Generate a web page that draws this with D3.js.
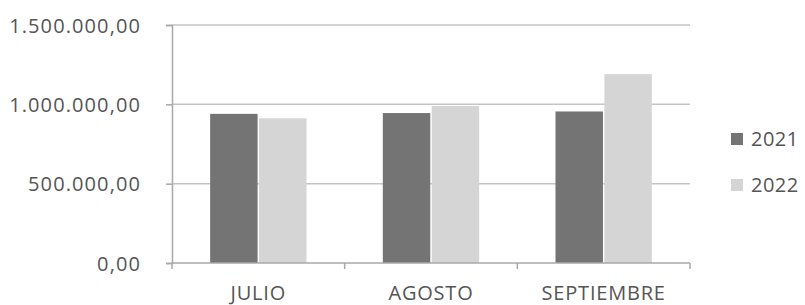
<!DOCTYPE html>
<html>
<head>
<meta charset="utf-8">
<script src="https://cdn.jsdelivr.net/npm/d3@7"></script>
<style>
  body { margin: 0; background: #fff; }
  text { font-family: "Open Sans", sans-serif; fill: #555; }
</style>
</head>
<body>
<div id="graph"></div>
<script>
// datos
var meses = ["JULIO", "AGOSTO", "SEPTIEMBRE"];
var anios = ["2021", "2022"];
var valores2021 = [940000, 945000, 955000];
var valores2022 = [912000, 990000, 1190000];
var ticksY = [0, 500000, 1000000, 1500000];
var colores = ["#747474", "#d5d5d5"];

var w = 805, h = 305;
var margin = {top: 25, right: 115, bottom: 42, left: 172};

var svg = d3.select("#graph").append("svg")
	.attr("width", w).attr("height", h);

var x0 = d3.scaleBand().domain(meses)
	.range([margin.left, w - margin.right]).padding(0);
var x1 = d3.scaleBand().domain(anios)
	.range([0, x0.bandwidth()]).paddingInner(0.03).paddingOuter(0.78);
var y = d3.scaleLinear().domain([0, 1500000])
	.range([h - margin.bottom, margin.top]);

// formato 1.500.000,00
var fmt = d3.formatLocale({decimal: ",", thousands: ".", grouping: [3], currency: ["", ""]}).format(",.2f");

// lineas de division
svg.append("g").selectAll("line").data(ticksY.slice(1)).enter().append("line")
	.attr("x1", margin.left).attr("x2", w - margin.right)
	.attr("y1", function (d) { return y(d); }).attr("y2", function (d) { return y(d); })
	.attr("stroke", "#c4c4c4").attr("stroke-width", 1.5);

// barras
var filas = meses.map(function (m, i) {
	return {mes: m, vals: [valores2021[i], valores2022[i]]};
});
svg.append("g").selectAll("g").data(filas).enter().append("g")
	.attr("transform", function (d) { return "translate(" + x0(d.mes) + ",0)"; })
	.selectAll("rect").data(function (d) { return d.vals; }).enter().append("rect")
	.attr("x", function (d, i) { return x1(anios[i]); })
	.attr("width", x1.bandwidth())
	.attr("y", function (d) { return y(d); })
	.attr("height", function (d) { return y(0) - y(d); })
	.attr("fill", function (d, i) { return colores[i]; });

// eje Y
var ejeY = svg.append("g").attr("transform", "translate(" + margin.left + ",0)")
	.call(d3.axisLeft(y).tickValues(ticksY).tickFormat(fmt).tickSizeOuter(0).tickSize(6).tickPadding(25));
ejeY.select(".domain").attr("stroke", "#a8a8a8").attr("stroke-width", 1.5);
ejeY.selectAll(".tick line").attr("stroke", "#a8a8a8").attr("stroke-width", 1.5);
ejeY.selectAll("text").style("font-size", "20px").style("letter-spacing", "1.1px")
	.attr("fill", "#555").attr("dy", "0.35em");
ejeY.attr("font-family", null);

// eje X
var ejeX = svg.append("g").attr("transform", "translate(0," + y(0) + ")");
ejeX.append("line").attr("x1", margin.left).attr("x2", w - margin.right)
	.attr("stroke", "#a8a8a8").attr("stroke-width", 1.5);
var bordes = [margin.left].concat(meses.map(function (m) { return x0(m) + x0.bandwidth(); }));
ejeX.selectAll("line.tk").data(bordes).enter().append("line").attr("class", "tk")
	.attr("x1", function (d) { return d; }).attr("x2", function (d) { return d; })
	.attr("y1", 0).attr("y2", 6).attr("stroke", "#a8a8a8").attr("stroke-width", 1.5);
ejeX.selectAll("text").data(meses).enter().append("text")
	.attr("x", function (d) { return x0(d) + x0.bandwidth() / 2; })
	.attr("y", 37).attr("text-anchor", "middle")
	.style("font-size", "20px").style("letter-spacing", "0.8px")
	.text(function (d) { return d; });

// leyenda
var ley = svg.append("g").selectAll("g").data(anios).enter().append("g")
	.attr("transform", function (d, i) { return "translate(731," + (139 + i * 46) + ")"; });
ley.append("rect").attr("x", 0).attr("y", -6).attr("width", 12).attr("height", 12)
	.attr("fill", function (d, i) { return colores[i]; });
ley.append("text").attr("x", 20).attr("dy", "0.35em")
	.style("font-size", "20px").style("letter-spacing", "0.5px")
	.text(function (d) { return d; });
</script>
</body>
</html>
